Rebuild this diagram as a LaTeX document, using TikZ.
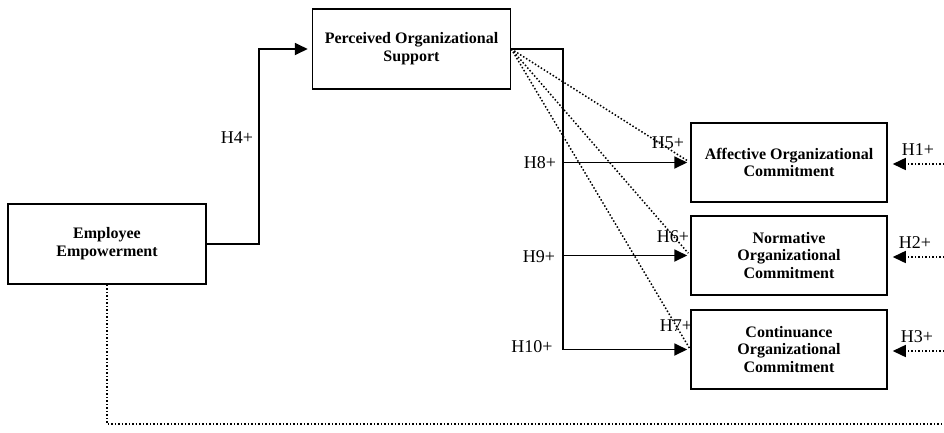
\documentclass[tikz,border=0pt]{standalone}
\usepackage{fontspec}
\setmainfont{Liberation Serif}
\usetikzlibrary{arrows.meta}

\begin{document}
\begin{tikzpicture}[x=1pt,y=-1pt,
        construct/.style={draw,line width=1.5pt,minimum width=198pt,minimum height=80pt,inner sep=2pt,align=center,font=\fontsize{16}{17.8}\selectfont\bfseries},
        hyp/.style={inner sep=0pt,font=\fontsize{18}{20}\selectfont},
        direct/.style={line width=1.8pt,-{Triangle[length=13pt,width=12pt]}},
        indirect/.style={dotted,line width=1.5pt}]
        \useasboundingbox (0,0) rectangle (944,432);

        \coordinate (pos) at (411.5,49);
        \coordinate (ee) at (107,244);
        \coordinate (aoc) at (789,162.5);
        \coordinate (noc) at (789,255.5);
        \coordinate (coc) at (789,349.5);
        \coordinate (spine) at (563,0);
        \coordinate (bend) at (259,0);
        \coordinate (r1) at (944,164);
        \coordinate (r2) at (944,257);
        \coordinate (r3) at (944,351);
        \coordinate (r4) at (944,424);

        \node[construct] (POS) at (pos){Perceived Organizational\\Support};
        \node[construct] (EE) at (ee){Employee\\Empowerment};
        \node[construct,minimum width=196pt,minimum height=79pt] (AOC) at (aoc){Affective Organizational\\Commitment};
        \node[construct,minimum width=196pt,minimum height=79pt] (NOC) at (noc){Normative\\Organizational\\Commitment};
        \node[construct,minimum width=196pt,minimum height=79pt] (COC) at (coc){Continuance\\Organizational\\Commitment};

        % solid paths
        \draw[direct,shorten >=4pt] (EE.east) -| (bend |- POS.west) -- (POS.west);
        \draw[direct,shorten >=3pt] (POS.east) -| (spine |- COC.west) -- (COC.west);
        \draw[direct,shorten >=3pt] (spine |- AOC.west) -- (AOC.west);
        \draw[direct,shorten >=3pt] (spine |- NOC.west) -- (NOC.west);

        % dotted paths
        \draw[indirect,shorten >=3pt] (POS.east) -- (AOC.west);
        \draw[indirect,shorten >=3pt] (POS.east) -- (NOC.west);
        \draw[indirect,shorten >=1pt] (POS.east) -- (COC.west);
        \draw[indirect] (EE.south) |- (r4);
        \draw[indirect,-{Triangle[length=13pt,width=12pt]},shorten >=5pt] (r1) -- (AOC.east |- r1);
        \draw[indirect,-{Triangle[length=13pt,width=12pt]},shorten >=5pt] (r2) -- (NOC.east |- r2);
        \draw[indirect,-{Triangle[length=13pt,width=12pt]},shorten >=5pt] (r3) -- (COC.east |- r3);

        \node[hyp] (H1) at (918,150){H1+};
        \node[hyp] (H2) at (915,243){H2+};
        \node[hyp] (H3) at (917,337){H3+};
        \node[hyp] (H4) at (237,138){H4+};
        \node[hyp] (H5) at (668,143){H5+};
        \node[hyp] (H6) at (673,237){H6+};
        \node[hyp] (H7) at (676,326){H7+};
        \node[hyp] (H8) at (540,163){H8+};
        \node[hyp] (H9) at (539,257){H9+};
        \node[hyp] (H10) at (532,347){H10+};
    \end{tikzpicture}
\end{document}
